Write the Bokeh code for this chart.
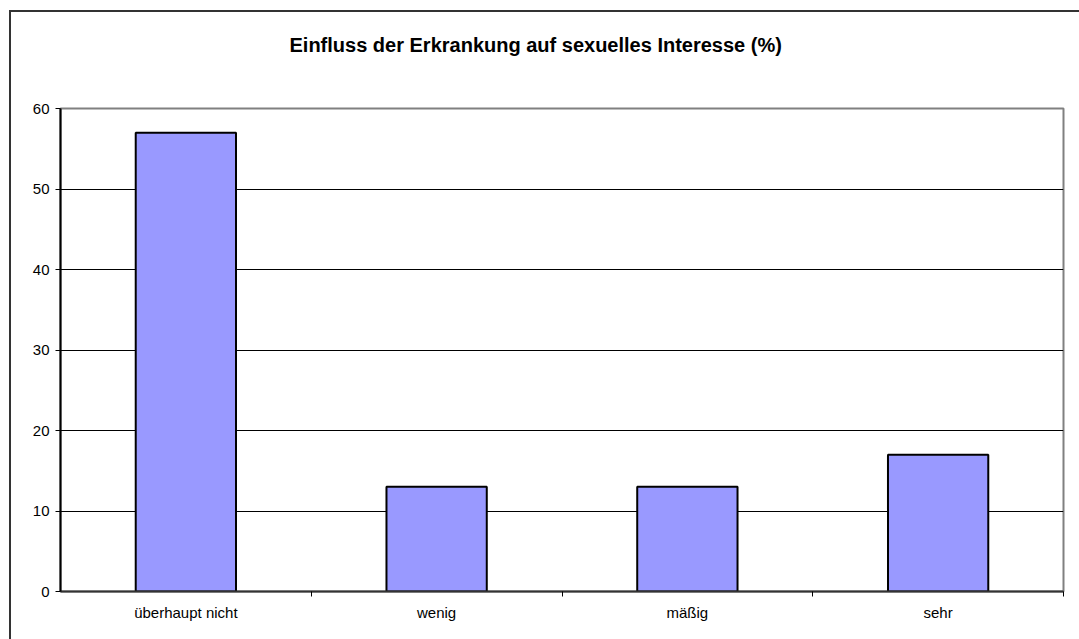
from bokeh.plotting import figure
from bokeh.models import ColumnDataSource, FixedTicker, LinearAxis, Range1d, Title
from bokeh.embed import file_html
from bokeh.resources import INLINE

categories = ["überhaupt nicht", "wenig", "mäßig", "sehr"]
values = [57, 13, 13, 17]
y_ticks = [0, 10, 20, 30, 40, 50, 60]

positions = [i + 0.5 for i in range(len(categories))]
source = ColumnDataSource(dict(x=positions, top=values, cat=categories))

FONT = "Liberation Sans"

p = figure(width=1075, height=635, output_backend="svg", toolbar_location=None,
           x_range=Range1d(0, len(categories)), y_range=Range1d(0, 60),
           title="Einfluss der Erkrankung auf sexuelles Interesse (%)",
           min_border_left=49, min_border_top=96, min_border_right=23, min_border_bottom=56)
p.margin = (10, 0, 0, 9)
p.styles = {"border": "2px solid #333333"}

p.title.text_font = FONT
p.title.text_font_size = "20px"
p.title.text_font_style = "bold"
p.title.text_color = "black"
p.title.align = "left"
p.title.offset = 229
p.title.standoff = 0
p.title.vertical_align = "bottom"

# blank spacer between the title and the frame
spacer = Title(text=" ", text_font_size="1px", standoff=50)
p.add_layout(spacer, "above")

p.vbar(x="x", top="top", width=0.4, source=source, fill_color="#9999FF",
       line_color="black", line_width=2)

p.outline_line_color = "#808080"
p.outline_line_width = 2
p.background_fill_color = "white"

p.xgrid.visible = False
p.ygrid.ticker = FixedTicker(ticks=y_ticks)
p.ygrid.grid_line_color = "black"
p.ygrid.grid_line_width = 1

# y axis
yax = p.yaxis[0]
yax.ticker = FixedTicker(ticks=y_ticks)
yax.axis_line_color = "black"
yax.axis_line_width = 2
yax.major_tick_line_color = "black"
yax.major_tick_out = 5
yax.major_tick_in = 0
yax.minor_tick_line_color = None
yax.major_label_text_font = FONT
yax.major_label_text_font_size = "15px"
yax.major_label_text_color = "black"
yax.major_label_standoff = 6

# x axis with boundary ticks
xax = p.xaxis[0]
bounds = list(range(1, len(categories) + 1))
xax.ticker = FixedTicker(ticks=bounds)
xax.major_label_overrides = {b: "" for b in bounds}
xax.axis_line_color = "#333333"
xax.axis_line_width = 2
xax.major_tick_line_color = "black"
xax.major_tick_out = 5
xax.major_tick_in = 0
xax.minor_tick_line_color = None
xax.major_label_text_font_size = "1px"
xax.major_label_standoff = 0

# x axis with category labels at centers
lab = LinearAxis(ticker=FixedTicker(ticks=positions),
                 major_label_overrides={pos: c for pos, c in zip(positions, categories)})
lab.axis_line_color = None
lab.major_tick_line_color = None
lab.minor_tick_line_color = None
lab.major_label_text_font = FONT
lab.major_label_text_font_size = "15px"
lab.major_label_text_color = "black"
lab.major_label_standoff = 1
p.add_layout(lab, "below")

open("out.html", "w").write(file_html(p, INLINE))
